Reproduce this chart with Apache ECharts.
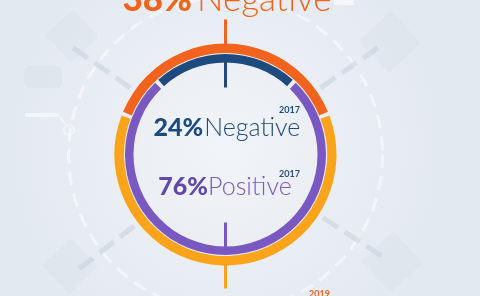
<!DOCTYPE html>
<html>
<head>
<meta charset="utf-8">
<script src="https://cdn.jsdelivr.net/npm/echarts@6/dist/echarts.min.js"></script>
<style>html,body{margin:0;padding:0;background:#e9eef4;}#c{width:480px;height:296px;}</style>
</head>
<body>
<div id="c"></div>
<script>
// ---- data ----
const categories = ['Negative', 'Positive'];
const values2019 = [38, 62];
const values2017 = [24, 76];
const years = ['2019', '2017'];

// ---- styles ----
const C = { orange: '#f2641e', yellow: '#fba41b', navy: '#1f4a7e', purple: '#7a58c2', purpleText: '#6149ab' };
const cx = 225.5, cy = 154.5;
const FONT = 'Lato, "Open Sans", sans-serif';

const chart = echarts.init(document.getElementById('c'), null, { renderer: 'canvas' });

function ringStart(firstPct) { return 90 + firstPct * 1.8; }

function vline(x, y1, y2, color) {
  return { type: 'line', silent: true, z: 10, shape: { x1: x, y1: y1, x2: x, y2: y2 }, style: { stroke: color, lineWidth: 3 } };
}
function diag(angDeg, r1, r2) {
  const a = angDeg * Math.PI / 180;
  return { type: 'line', silent: true, z: -5, shape: { x1: cx + r1 * Math.cos(a), y1: cy + r1 * Math.sin(a), x2: cx + r2 * Math.cos(a), y2: cy + r2 * Math.sin(a) },
    style: { stroke: 'rgba(200,210,222,0.6)', lineWidth: 5, lineDash: [18, 8] } };
}
function fadedSquare(x, y, s, rot) {
  return { type: 'rect', silent: true, z: -8, x: x, y: y, rotation: rot, originX: 0, originY: 0,
    shape: { x: -s / 2, y: -s / 2, width: s, height: s, r: 4 }, style: { fill: 'rgba(205,214,225,0.16)' } };
}
function rich(pct, word, color, color2, size, gap) {
  return {
    text: '{b|' + pct + '%}{l|' + word + '}',
    rich: {
      b: { fontFamily: FONT, fontWeight: 900, fontSize: size, fill: color, padding: [0, gap, 0, 0] },
      l: { fontFamily: FONT, fontWeight: 300, fontSize: size, fill: color2 || color }
    }
  };
}

const option = {
  animation: false,
  backgroundColor: {
    type: 'radial', x: 0.47, y: 0.5, r: 0.75,
    colorStops: [{ offset: 0, color: '#f1f4f8' }, { offset: 1, color: '#e3e9f0' }]
  },
  series: [
    {
      type: 'pie', name: years[0], center: [cx, cy], radius: [101.5, 111],
      startAngle: ringStart(values2019[0]), clockwise: true, padAngle: 2,
      label: { show: false }, labelLine: { show: false }, silent: true,
      data: categories.map((c, i) => ({ name: c, value: values2019[i], itemStyle: { color: i === 0 ? C.orange : C.yellow } }))
    },
    {
      type: 'pie', name: years[1], center: [cx, cy], radius: [92, 100.5],
      startAngle: ringStart(values2017[0]), clockwise: true, padAngle: 2.4,
      label: { show: false }, labelLine: { show: false }, silent: true,
      data: categories.map((c, i) => ({ name: c, value: values2017[i], itemStyle: { color: i === 0 ? C.navy : C.purple } }))
    }
  ],
  graphic: [
    // faint background decorations
    fadedSquare(72, 36, 38, 0.75),
    fadedSquare(390, 42, 44, 0.75),
    fadedSquare(70, 266, 40, 0.75),
    fadedSquare(392, 262, 44, 0.75),
    { type: 'rect', silent: true, z: -8, shape: { x: 24, y: 66, width: 38, height: 22, r: 6 }, style: { fill: 'rgba(205,214,225,0.25)' } },
    { type: 'line', silent: true, z: -6, shape: { x1: 25, y1: 115, x2: 58, y2: 115 }, style: { stroke: 'rgba(255,255,255,0.55)', lineWidth: 4 } },
    { type: 'line', silent: true, z: -6, shape: { x1: 58, y1: 115, x2: 66, y2: 125 }, style: { stroke: 'rgba(255,255,255,0.45)', lineWidth: 2 } },
    { type: 'circle', silent: true, z: -6, shape: { cx: 69, cy: 130, r: 5 }, style: { fill: 'none', stroke: 'rgba(255,255,255,0.45)', lineWidth: 2 } },
    { type: 'rect', silent: true, z: -6, shape: { x: 334, y: 0, width: 20, height: 5 }, style: { fill: 'rgba(255,255,255,0.6)' } },
    { type: 'circle', silent: true, z: -7, shape: { cx: cx, cy: cy, r: 157 }, style: { fill: 'none', stroke: 'rgba(255,255,255,0.5)', lineWidth: 3, lineDash: [14, 8] } },
    diag(215, 116, 190), diag(325, 116, 190), diag(142, 116, 190), diag(33, 116, 190),
    // ticks
    vline(cx, cy - 135, cy - 104, C.orange),
    vline(cx, cy - 100, cy - 67, C.navy),
    vline(cx, cy + 68, cy + 96, C.purple),
    vline(cx, cy + 106, cy + 134, C.yellow),
    // texts
    { type: 'text', silent: true, z: 20, x: 227, y: 17, style: Object.assign(rich(values2019[0], categories[0], C.orange, null, 35, 5), { align: 'center', verticalAlign: 'bottom' }) },
    { type: 'text', silent: true, z: 20, x: 227, y: 140, style: Object.assign(rich(values2017[0], categories[0], C.navy, null, 25, 1), { align: 'center', verticalAlign: 'bottom' }) },
    { type: 'text', silent: true, z: 20, x: 300, y: 115, style: { text: years[1], fontFamily: FONT, fontWeight: 700, fontSize: 9, fill: C.navy, align: 'right', verticalAlign: 'bottom' } },
    { type: 'text', silent: true, z: 20, x: 225, y: 199, style: Object.assign(rich(values2017[1], categories[1], C.purpleText, C.purple, 25, 0), { align: 'center', verticalAlign: 'bottom' }) },
    { type: 'text', silent: true, z: 20, x: 300, y: 179, style: { text: years[1], fontFamily: FONT, fontWeight: 700, fontSize: 9, fill: '#2f4c86', align: 'right', verticalAlign: 'bottom' } },
    { type: 'text', silent: true, z: 20, x: 330, y: 299, style: { text: years[0], fontFamily: FONT, fontWeight: 700, fontSize: 9, fill: C.orange, align: 'right', verticalAlign: 'bottom' } }
  ]
};
chart.setOption(option);
</script>
</body>
</html>
